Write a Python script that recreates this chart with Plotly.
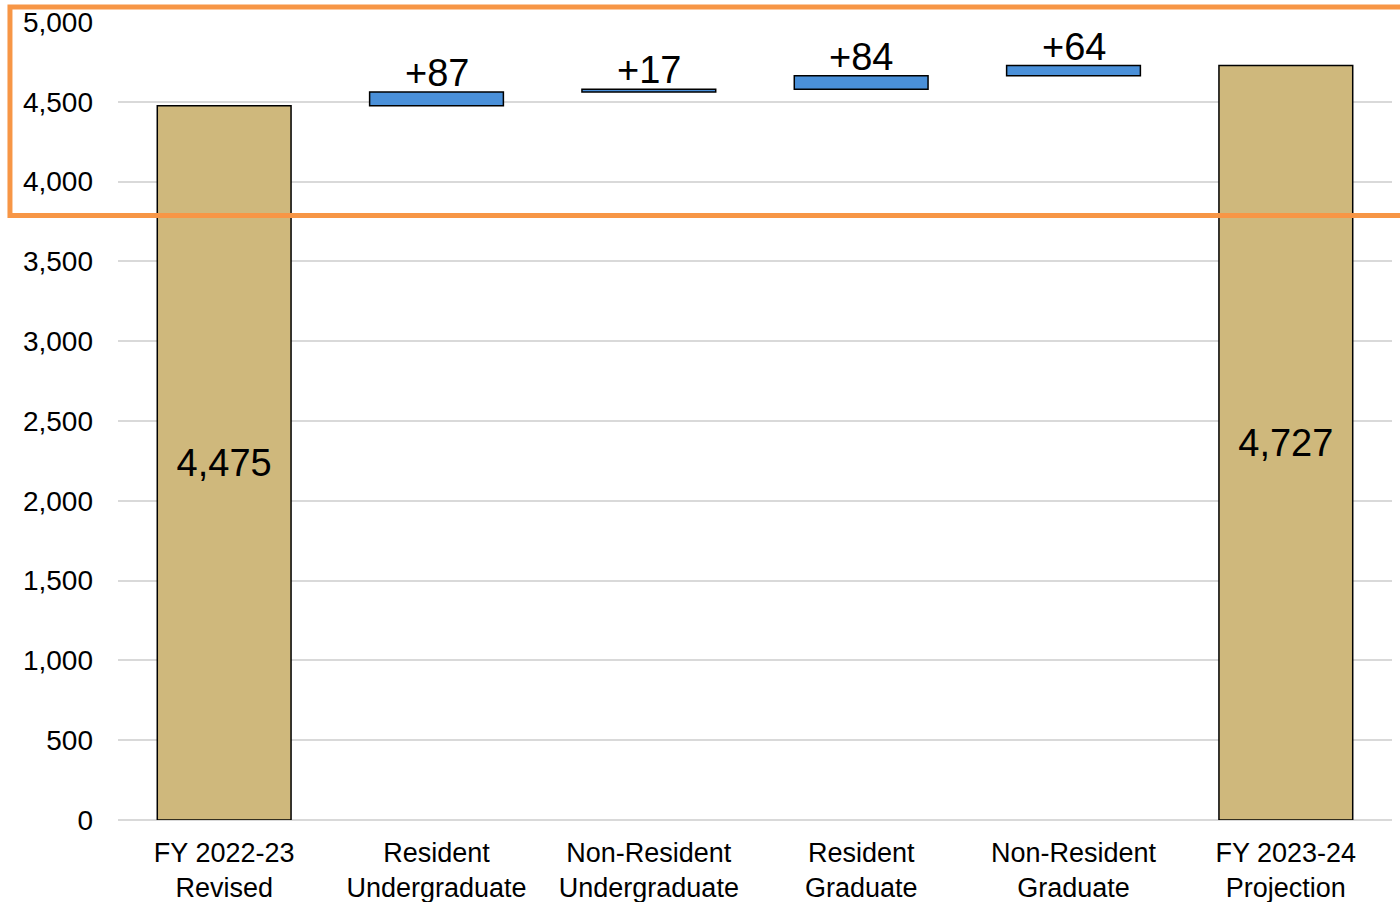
import numpy as np
import plotly.graph_objects as go

categories = ["FY 2022-23<br>Revised", "Resident<br>Undergraduate", "Non-Resident<br>Undergraduate",
              "Resident<br>Graduate", "Non-Resident<br>Graduate", "FY 2023-24<br>Projection"]
values = [4475, 87, 17, 84, 64, 4727]
measures = ["absolute", "relative", "relative", "relative", "relative", "total"]
labels = ["4,475", "+87", "+17", "+84", "+64", "4,727"]
tick_vals = [0, 500, 1000, 1500, 2000, 2500, 3000, 3500, 4000, 4500, 5000]

TAN = "#CFB87C"
BLUE = "#4A90D9"
FONT = "Liberation Sans, Arial, sans-serif"

inside_text = [lab if m != "relative" else "" for lab, m in zip(labels, measures)]

fig = go.Figure(go.Waterfall(
    x=categories,
    y=values,
    measure=measures,
    text=inside_text,
    textinfo="text",
    textposition="inside",
    insidetextanchor="middle",
    textfont=dict(family=FONT, size=38, color="black"),
    insidetextfont=dict(family=FONT, size=38, color="black"),
    cliponaxis=False,
    increasing=dict(marker=dict(color=BLUE, line=dict(color="black", width=1.5))),
    decreasing=dict(marker=dict(color=BLUE, line=dict(color="black", width=1.5))),
    totals=dict(marker=dict(color=TAN, line=dict(color="black", width=1.5))),
    connector=dict(visible=False),
    showlegend=False,
    hoverinfo="skip",
))

# labels above the change bars, at each running total
running = np.cumsum([v if m != "total" else 0 for v, m in zip(values, measures)])
annotations = []
for cat, lab, m, top in zip(categories, labels, measures, running):
    if m == "relative":
        annotations.append(dict(x=cat, y=top, xref="x", yref="y", text=lab,
                                showarrow=False, yanchor="bottom", yshift=-4,
                                font=dict(family=FONT, size=38, color="black")))

fig.update_layout(
    width=1400, height=902,
    margin=dict(l=118, r=8, t=22, b=82),
    plot_bgcolor="white", paper_bgcolor="white",
    waterfallgap=0.37,
    font=dict(family=FONT, color="black"),
    xaxis=dict(showgrid=False, showline=False, ticks="", ticklabelstandoff=14,
               automargin=False,
               tickfont=dict(family=FONT, size=27, color="black")),
    yaxis=dict(range=[0, 5000], tickvals=tick_vals, tickformat=",",
               showgrid=True, gridcolor="#D9D9D9", gridwidth=1.5,
               zeroline=True, zerolinecolor="#D9D9D9", zerolinewidth=1.5,
               showline=False, ticks="", ticklabelstandoff=24, automargin=False,
               tickfont=dict(family=FONT, size=28, color="black")),
    annotations=annotations,
    shapes=[dict(type="rect", xref="paper", yref="paper",
                 x0=-0.0848, x1=1.02, y0=0.7575, y1=1.0188,
                 line=dict(color="#F79646", width=5), fillcolor="rgba(0,0,0,0)",
                 layer="above")],
)

fig.write_html("out.html", config={"displayModeBar": False},
               post_script="document.body.style.margin='0';")
